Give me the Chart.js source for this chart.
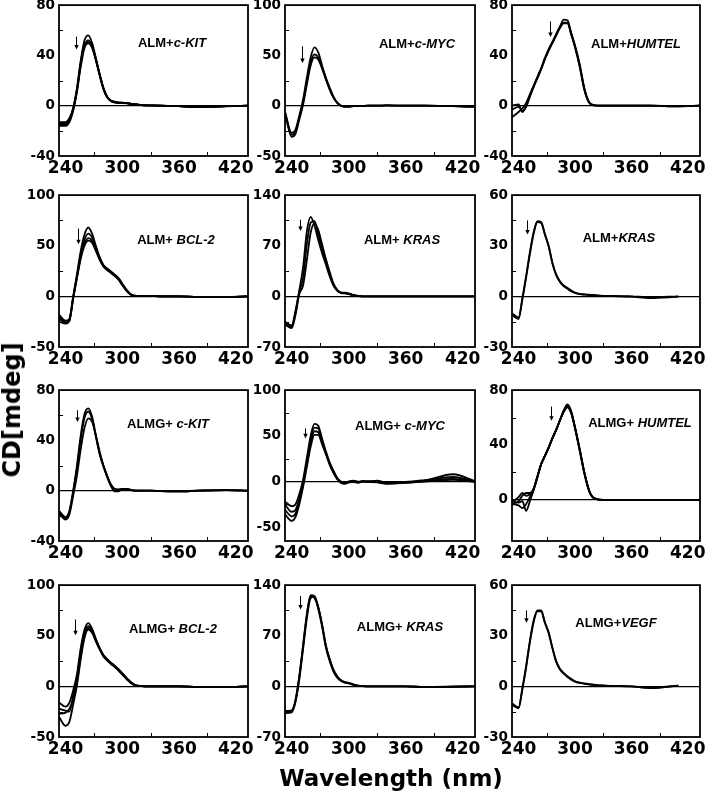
<!DOCTYPE html>
<html>
<head>
<meta charset="utf-8">
<script src="https://cdn.jsdelivr.net/npm/chart.js@4.4.1/dist/chart.umd.min.js"></script>
<style>
  body { margin: 0; background: #fff; width: 714px; height: 798px; position: relative; overflow: hidden; }
  canvas { position: absolute; }
  .lbl { position: absolute; font: bold 13px "Liberation Sans", Arial, sans-serif; white-space: nowrap;
         transform: translate(-50%, -50%); color: #000; }
  .lbl i { font-style: italic; }
  .title { position: absolute; font: bold 24px "DejaVu Sans", sans-serif; white-space: nowrap; color: #000; }
</style>
</head>
<body>
<script>
// wavelength grid (nm) shared by every spectrum
const WL = [233, 240, 244, 248, 252, 256, 260, 264, 268, 272, 276, 280, 284, 288, 292, 296, 300, 305, 310, 315, 320, 330, 340, 360, 380, 410, 433];

// CD spectra (mdeg), several titration traces per panel
const ALM_CKIT = [
  [-14,-14,-11,-2,14,36,52,56,50,38,25,14,7,4,3,2.5,2.5,2,1.5,1,0.5,0.2,0,-0.3,-1,-0.4,0],
  [-15,-15,-12,-3,12,33,48,52,48,37,25,14,7,4,3,2.5,2.3,2,1.5,1,0.5,0.2,0,-0.3,-1,-0.4,0],
  [-16,-16,-13,-4,11,31,46,49.5,46,36,24,13,6.5,3.5,2.5,2,2,1.8,1.2,0.8,0.4,0.1,0,-0.4,-1.2,-0.5,0],
  [-13,-13,-10,-2,13,34,49,50.5,47,37,25,14,7,4,3,2.5,2.3,2,1.5,1,0.5,0.2,0,-0.3,-1,-0.4,0]
];
const ALM_CMYC = [
  [-6,-27,-24,-10,6,28,48,58,53,40,28,18,9,3,0,-1,-1,-0.5,-0.5,-0.3,0,0,0.3,0,0,-0.5,-1],
  [-7,-29,-26,-12,3,24,43,51,48,38,27,17,8.5,3,0,-1,-1,-0.5,-0.5,-0.3,0,0,0.3,0,0,-0.5,-1],
  [-8,-31,-28,-14,1,21,40,48,46,37,26,16,8,2.5,0,-1,-1,-0.5,-0.5,-0.3,0,0,0.3,0,0,-0.5,-1]
];
const ALM_HUMTEL = [
  [-9,-5,-2,2,9,16,23,30,38,45,51,57,63,68.5,68,58,48,33,14,3,0.5,0,0,0,0,-0.5,0],
  [-3,-1,-4,-1,7,15,22,29,37,44,50,56,62,66,66,57,47,32,13,2.5,0.3,0,0,0,0,-0.5,0],
  [0,1,-5,0,8,15,22,29,37,44,50,56,62,65.5,65.5,56.5,46.5,31,12.5,2.5,0.3,0,0,0,0,-0.3,0]
];
const ALM_BCL2 = [
  [-18,-24,-22,0,22,45,61,68,62,50,39,31,27.5,24.5,21.5,18,12.5,6,1.5,0.5,0.3,0.5,0,0,-0.5,-0.5,0],
  [-20,-25,-23,-1,20,41,56,62,58,48,38,30.5,27,24,21,17.5,12,5.5,1.3,0.4,0.3,0.4,0,0,-0.5,-0.5,0],
  [-22,-26,-24,-2,19,39,52,57.5,55,46,37,30,26.5,23.5,20.5,17,11.5,5,1.2,0.3,0.2,0.3,0,0,-0.6,-0.5,0],
  [-25,-27,-24,-2,18,37,50,55,53,45,36,29.5,26,23,20,16.5,11,4.8,1,0.3,0.2,0.3,0,0,-0.6,-0.5,0]
];
const ALM_KRAS_A = [
  [-35,-40,-20,8,40,90,110,98,78,60,44,28,15,8,4.5,4,3,1.5,0.5,0,0,0,0,0,0,0,0],
  [-37,-42,-23,6,25,72,102,104,86,66,48,31,16,8,5,4.5,3.5,1.5,0.5,0,0,0,0,0,0,0,0],
  [-39,-44,-26,3,15,50,88,101,92,72,52,34,18,9,5.5,5,4,2,0.6,0,0,0,0,0,0,0,0]
];
const ALM_KRAS_B = [
  [-10,-12.5,-1,12,26,38,44.5,44,37,30,20,13,9,6.5,5,3.5,2.3,1.5,1.2,1,0.8,0.3,0.3,0,-0.5,0,null],
  [-11,-13.5,-2,11,25,37,44,43.5,36.5,29.5,19.5,12.5,8.5,6,4.5,3,2,1.3,1,0.8,0.6,0.2,0.1,-0.2,-1,-0.2,null]
];
const ALMG_CKIT = [
  [-16,-21,-16,0,20,44,61,65.5,59,44,30,20,12,5,1.5,1,1.5,1.5,0.5,0,0,0,-0.3,-0.5,0,0.5,0],
  [-17,-22,-17,-1,18,41,58,63,57,43,29,19,11,4.5,1,0.8,1.3,1.3,0.4,0,0,0,-0.3,-0.5,0,0.5,0],
  [-18,-23,-19,-4,12,33,50,57.5,55,44,31,20,11,3.5,-0.5,-0.5,1,1.2,0.3,0,0,0,-0.4,-0.6,0,0.4,0]
];
const ALMG_CMYC = [
  [-22,-27,-25,-14,2,26,50,63,61,47,33,21,12,4,0,-1,0,1,0,0.5,0,1,-1,-1,1,8,0.5],
  [-25,-33,-31,-19,-2,22,46,59,58,45,32,20,11,3.5,-0.5,-1.5,0,0.5,-0.5,0,0.5,0,-1.5,-0.5,1.5,5,0],
  [-31,-38,-35,-22,-4,19,42,55,54,43,31,19,10,3,-1,-2,-0.5,0,-1,0.5,0,-0.5,-2,-1,0.5,3,0],
  [-36,-43,-39,-25,-6,16,38,51,51,41,30,18.5,9.5,2.5,-1.5,-2.5,-1,-0.5,-1.5,0,-0.5,-1,-2.5,-1.5,0,2,-0.5]
];
const ALMG_HUMTEL = [
  [-3,-1,3,5,5,8,17,26,32,38,45,51,58,65,68.5,64,53,37,20,7,1.5,0,0,0,0,0,0],
  [-2,2,5,3,4,8,17,26,32,38,45,51,58,64.5,68,63.5,52.5,36.5,19.5,6.5,1.2,0,0,0,0,0,0],
  [-1,-2,-1,-8,-1,7,16,26,32,38,45,51,58,64,67.5,63,52,36,19,6.5,1.2,0,0,0,0,0,0],
  [-3,-4,-6,-3,2,8,17,26,32,38,45,51,58,65,69.5,64.5,53,37,20,7,1.5,0,0,0,0,0,0]
];
const ALMG_BCL2 = [
  [-16,-20,-16,-4,12,38,56,62.5,57,47,38,31,27,23.5,20.5,17,13,8,3.5,1,0.3,0,0,0,-0.5,-0.5,0],
  [-22,-24,-25,-9,8,34,53,59.5,55,46,37.5,30.5,26.5,23,20,16.5,12.5,7.5,3,0.8,0.2,0,0,0,-0.5,-0.5,0],
  [-27,-26,-22,-13,4,30,50,57.5,54,45,37,30,26,22.5,19.5,16,12,7,2.8,0.7,0.2,0,0,0,-0.5,-0.5,0],
  [-30,-39,-35,-18,1,27,48,56,53,44.5,36.5,29.5,25.5,22,19,15.5,11.5,6.8,2.5,0.6,0.2,0,0,0,-0.5,-0.5,0]
];
const ALMG_KRAS = [
  [-35,-34,-20,12,55,98,125,122,109,85,56,37,22,13,8,5.5,4.5,2.5,1,0.3,0,0,0,0,-1,-0.5,0],
  [-37,-36,-22,9,51,94,122,124,107,83,54,35,20.5,12,7.5,5,4,2.2,0.8,0.2,0,0,0,0,-1,-0.5,0],
  [-34,-33,-19,14,57,100,126,125,110,86,57,38,23,14,8.5,6,5,2.8,1.1,0.4,0,0,0,0,-0.8,-0.4,0]
];
const ALMG_VEGF = [
  [-10,-12.5,-1,12,27,39,45,45,38,32,23,15,10.5,8,6,4.5,3,2.2,1.7,1.3,1,0.5,0.3,0,-1,0.5,null],
  [-11,-13,-2,11,26,38,44.5,44.5,37.5,31.5,22.5,14.5,10,7.5,5.5,4,2.8,2,1.5,1.1,0.8,0.4,0.2,0,-0.8,0.4,null]
];

const SERIES = [ALM_CKIT, ALM_CMYC, ALM_HUMTEL, ALM_BCL2, ALM_KRAS_A, ALM_KRAS_B,
                ALMG_CKIT, ALMG_CMYC, ALMG_HUMTEL, ALMG_BCL2, ALMG_KRAS, ALMG_VEGF];

const PREFIX = ['ALM+', 'ALM+', 'ALM+', 'ALM+ ', 'ALM+ ', 'ALM+', 'ALMG+ ', 'ALMG+ ', 'ALMG+ ', 'ALMG+ ', 'ALMG+ ', 'ALMG+'];
const GENES  = ['c-KIT', 'c-MYC', 'HUMTEL', 'BCL-2', 'KRAS', 'KRAS', 'c-KIT', 'c-MYC', 'HUMTEL', 'BCL-2', 'KRAS', 'VEGF'];

const Y_MIN = [-40, -50, -40, -50, -70, -30, -40, -65, -30, -50, -70, -30];
const Y_MAX = [80, 100, 80, 100, 140, 60, 80, 100, 80, 100, 140, 60];
const Y_TICKS = [
  [-40, 0, 40, 80], [-50, 0, 50, 100], [-40, 0, 40, 80],
  [-50, 0, 50, 100], [-70, 0, 70, 140], [-30, 0, 30, 60],
  [-40, 0, 40, 80], [-50, 0, 50, 100], [0, 40, 80],
  [-50, 0, 50, 100], [-70, 0, 70, 140], [-30, 0, 30, 60]
];
const X_TICKS = [240, 300, 360, 420];
const X_MINOR = [270, 330, 390];

// down arrows: [wavelength, from, to]
const ARROWS = [
  [251, 55, 45], [251, 59, 43], [273, 67, 55],
  [253, 67, 52], [249, 106, 91], [249, 45, 37],
  [252, 64, 55], [254, 58, 48], [275, 68, 58],
  [250, 66, 51], [249, 125, 107], [248, 45, 38]
];

// ── layout (page pixels of each plot box) ─────────────────────────────
const COLS = [{ l: 59, r: 248 }, { l: 285, r: 475 }, { l: 512, r: 700 }];
const ROWS = [{ t: 3, b: 156 }, { t: 193, b: 347 }, { t: 388, b: 541 }, { t: 583, b: 737 }];
const LABEL_AT = [[172, 42], [417, 43], [636, 43], [176, 239], [402, 239], [619, 237],
                  [168, 423], [400, 425], [640, 422], [173, 628], [400, 626], [616, 622]];
const PAD_L = 52, PAD_R = 26, PAD_T = 10, PAD_B = 30;

const framePlugin = {
  id: 'frame',
  afterDraw(chart, args, opts) {
    const { ctx, chartArea: a } = chart;
    const x = chart.scales.x, y = chart.scales.y;
    ctx.save();
    ctx.strokeStyle = '#000';
    ctx.fillStyle = '#000';
    ctx.lineWidth = 1.8;
    ctx.strokeRect(a.left, a.top, a.right - a.left, a.bottom - a.top);

    // small inward minor ticks
    ctx.lineWidth = 1;
    ctx.beginPath();
    X_MINOR.forEach(v => {
      const px = Math.round(x.getPixelForValue(v)) + 0.5;
      ctx.moveTo(px, a.bottom); ctx.lineTo(px, a.bottom - 4);
    });
    opts.yMinor.forEach(v => {
      const py = Math.round(y.getPixelForValue(v)) + 0.5;
      ctx.moveTo(a.left, py); ctx.lineTo(a.left + 4, py);
    });
    ctx.stroke();

    // titration arrow
    const [w, v1, v2] = opts.arrow;
    const ax = Math.round(x.getPixelForValue(w)) + 0.5;
    const ay1 = y.getPixelForValue(v1), ay2 = y.getPixelForValue(v2);
    ctx.beginPath();
    ctx.moveTo(ax, ay1); ctx.lineTo(ax, ay2 - 3);
    ctx.stroke();
    ctx.beginPath();
    ctx.moveTo(ax - 2.2, ay2 - 4); ctx.lineTo(ax + 2.2, ay2 - 4); ctx.lineTo(ax, ay2 + 0.5);
    ctx.closePath(); ctx.fill();
    ctx.restore();
  }
};

SERIES.forEach((curves, i) => {
  const col = COLS[i % 3], row = ROWS[Math.floor(i / 3)];
  const cv = document.createElement('canvas');
  const w = col.r - col.l + PAD_L + PAD_R;
  const h = row.b - row.t + PAD_T + PAD_B;
  cv.width = w; cv.height = h;
  cv.style.left = (col.l - PAD_L) + 'px';
  cv.style.top = (row.t - PAD_T) + 'px';
  cv.style.width = w + 'px'; cv.style.height = h + 'px';
  document.body.appendChild(cv);

  const yt = Y_TICKS[i];
  const yMinor = [];
  for (let k = 0; k < yt.length - 1; k++) yMinor.push((yt[k] + yt[k + 1]) / 2);

  new Chart(cv.getContext('2d'), {
    type: 'line',
    plugins: [framePlugin],
    data: {
      datasets: curves.map(c => ({
        data: WL.map((x, k) => ({ x, y: c[k] })),
        borderColor: '#000',
        borderWidth: 1.8,
        pointRadius: 0,
        cubicInterpolationMode: 'monotone',
        fill: false,
        spanGaps: false,
      }))
    },
    options: {
      responsive: false,
      animation: false,
      events: [],
      layout: { padding: { left: 0, right: PAD_R, top: PAD_T, bottom: 0 } },
      scales: {
        x: {
          type: 'linear', min: 233, max: 433,
          afterBuildTicks: ax => { ax.ticks = X_TICKS.map(v => ({ value: v })); },
          afterFit: ax => { ax.height = PAD_B; },
          ticks: { color: '#000', padding: 2, maxRotation: 0, autoSkip: false,
                   font: { family: 'DejaVu Sans', size: 17, weight: 'bold' } },
          grid: { display: false, drawTicks: false },
          border: { display: false },
        },
        y: {
          min: Y_MIN[i], max: Y_MAX[i],
          afterBuildTicks: ax => { ax.ticks = yt.map(v => ({ value: v })); },
          afterFit: ax => { ax.width = PAD_L; },
          ticks: { color: '#000', padding: 4,
                   font: { family: 'DejaVu Sans', size: 13.5, weight: 'bold' } },
          grid: { color: c => c.tick.value === 0 ? '#000' : 'rgba(0,0,0,0)', lineWidth: 1.3, drawTicks: false },
          border: { display: false },
        }
      },
      plugins: {
        legend: { display: false },
        tooltip: { enabled: false },
        frame: { arrow: ARROWS[i], yMinor },
      }
    }
  });

  const lbl = document.createElement('div');
  lbl.className = 'lbl';
  lbl.style.left = LABEL_AT[i][0] + 'px';
  lbl.style.top = LABEL_AT[i][1] + 'px';
  lbl.innerHTML = PREFIX[i].replace(' ', '&nbsp;') + '<i>' + GENES[i] + '</i>';
  document.body.appendChild(lbl);
});

const yTitle = document.createElement('div');
yTitle.className = 'title';
yTitle.textContent = 'CD[mdeg]';
yTitle.style.left = '12px';
yTitle.style.top = '410px';
yTitle.style.transform = 'translate(-50%, -50%) rotate(-90deg)';
document.body.appendChild(yTitle);

const xTitle = document.createElement('div');
xTitle.className = 'title';
xTitle.textContent = 'Wavelength (nm)';
xTitle.style.fontSize = '23px';
xTitle.style.left = '391px';
xTitle.style.top = '778px';
xTitle.style.transform = 'translate(-50%, -50%)';
document.body.appendChild(xTitle);
</script>
</body>
</html>
